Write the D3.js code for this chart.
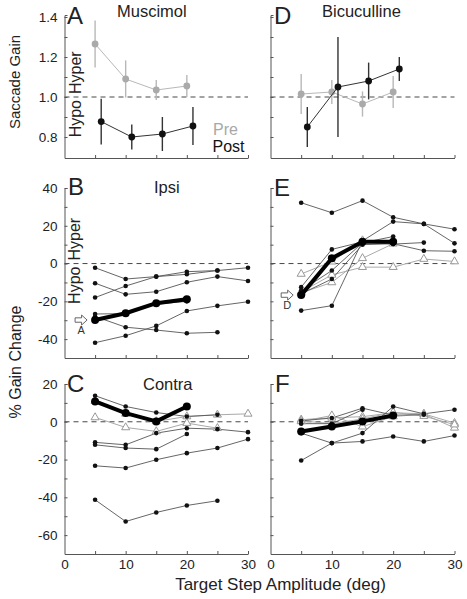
<!DOCTYPE html>
<html><head><meta charset="utf-8">
<script src="https://cdn.jsdelivr.net/npm/d3@7"></script>
<style>
body{margin:0;background:#fff}
svg{display:block}
text{font-family:"Liberation Sans",Arial,Helvetica,sans-serif}
</style>
</head><body>
<svg id="chart" width="467" height="599"></svg>
<script>
// ---------- data ----------
const amplitudes = [5, 10, 15, 20, 25, 30];
const gainAmplitudes = [5, 10, 15, 20];
const postOffset = 1; // Post points drawn 1 deg to the right
const xTickValues = [5, 10, 15, 20, 25, 30];
const xTickLabels = [0, 10, 20, 30];

const gainTickValues = [0.8, 0.9, 1.0, 1.1, 1.2, 1.3, 1.4];
const gainTickLabels = [0.8, 1.0, 1.2, 1.4];
const ipsiTickValues = [-40, -30, -20, -10, 0, 10, 20, 30, 40];
const ipsiTickLabels = [40, 20, 0, -20, -40];
const contraTickValues = [-60, -50, -40, -30, -20, -10, 0, 10, 20];
const contraTickLabels = [20, 0, -20, -40, -60];

// Panel A: Muscimol saccade gain
const muscimolPre     = [1.265, 1.09, 1.035, 1.055];
const muscimolPreErr  = [0.117, 0.093, 0.05, 0.055];
const muscimolPost    = [0.877, 0.80, 0.815, 0.855];
const muscimolPostErr = [0.114, 0.063, 0.085, 0.095];
// Panel D: Bicuculline saccade gain
const bicucullinePre     = [1.015, 1.025, 0.965, 1.025];
const bicucullinePreErr  = [0.10, 0.06, 0.063, 0.08];
const bicucullinePost    = [0.85, 1.05, 1.08, 1.14];
const bicucullinePostErr = [0.10, 0.25, 0.092, 0.06];

// Panel B: Ipsi, muscimol (% gain change)
const ipsiMuscimolBlack = [
  [-2.2, -8.2, -6.9, -4.3, -3.7, -2.2],
  [-10.4, -16.3, -14.9, -9.9, -6.9, -9.2],
  [-18, -11.9, -6.9, -5.7, -3.7],
  [-41.9, -38.2, -33, -25.1, -22.4, -20.2],
  [-28, -33.7, -35.2, -36.9, -36.4],
  [-26.7, -26.5, -21.5, -20]
];
const ipsiMuscimolGray = [];
const ipsiMuscimolMean = [-29.9, -26.3, -21, -18.9];

// Panel E: Ipsi, bicuculline
const ipsiBicucBlack = [
  [32.2, 26.9, 33.3, 24.5, 21, 18.2],
  [-24.9, -22.3, 12, 22.2, 21, 10.7],
  [-12.5, 7.5, 11.5, 10.3, 11.1],
  [-14.3, -3.7, 11, 14.3],
  [-16, -8.2, 10, 10.5, 6.8, 6.5]
];
const ipsiBicucGray = [
  [-5.5, 1, 12.2, 11.5],
  [-15, -6, -1.9, -1.9, 2.4, 1.1],
  [-15.5, -10, 2.8, 10.5]
];
const ipsiBicucMean = [-16.7, 2.8, 11.5, 11.5];

// Panel C: Contra, muscimol
const contraMuscimolBlack = [
  [13.8, 8.1, 4.9, 2.8, 3.7],
  [-10.9, -12.2, -6, -3.4, -3.9, -5.5],
  [-12.2, -13.9, -14.5, -6.5],
  [-23.3, -24.5, -20.1, -16.6, -13.9, -9.2],
  [-41.3, -52.8, -48, -44.3, -41.8]
];
const contraMuscimolGray = [
  [2.3, -3, -5.1, -0.7, -3.4],
  [11, 4.2, 0.2, 2.8, 3.7, 4.2]
];
const contraMuscimolMean = [10.8, 4.6, 0.2, 8.1];

// Panel F: Contra, bicuculline
const contraBicucBlack = [
  [-20.5, -11.3, -6, 8.1, 4.2, 6.4],
  [-6, -11.3, -10.4, -7.8, -10.4, -7.3],
  [0.5, 2, 7.2, 3.5, 3.7],
  [-1, -1, 6.4]
];
const contraBicucGray = [
  [1.1, 2.1, 2.7, 4.8, 4.2, -0.7],
  [0.2, 3.3, -2.6, 2.8, 4, -3.2],
  [0.5, -1, 1.5, 5, 3, -1.5]
];
const contraBicucMean = [-5.1, -2.5, 0.2, 3.3];

// ---------- drawing ----------
const svg = d3.select("#chart");
const BLACK = "#111", GRAY = "#aaaaaa", LINE = "#555";

const xLeft  = d3.scaleLinear().domain([0, 30]).range([64.5, 248]);
const xRight = d3.scaleLinear().domain([0, 30]).range([270.5, 454.5]);
const yGain   = d3.scaleLinear().domain([0.695, 1.41]).range([158, 15]);
const yIpsi   = d3.scaleLinear().domain([-50, 40]).range([358, 188]);
const yContra = d3.scaleLinear().domain([-70, 20]).range([554, 384]);

function fmtNum(d){ return d < 0 ? "-" + Math.abs(d) : String(d); }

function drawAxes(x, y, yTicks, yLabels, yFmt, showX){
  const g = svg.append("g");
  const yl = new Set(yLabels.map(v => +v.toFixed(3)));
  const ya = d3.axisLeft(y).tickValues(yTicks).tickSizeInner(-3).tickSizeOuter(-3).tickPadding(7)
    .tickFormat(d => (yFmt && yl.has(+d.toFixed(3))) ? yFmt(d) : "");
  const gy = g.append("g").attr("transform", `translate(${x.range()[0]},0)`).call(ya);
  const xl = new Set(xTickLabels);
  const xa = d3.axisBottom(x).tickValues(showX ? [0].concat(xTickValues) : xTickValues)
    .tickSizeInner(-3).tickSizeOuter(0).tickPadding(5)
    .tickFormat(d => (showX && xl.has(d)) ? String(d) : "");
  const gx = g.append("g").attr("transform", `translate(0,${y.range()[0]})`).call(xa);
  [gy, gx].forEach(a => {
    a.select(".domain").attr("stroke", "#555").attr("stroke-width", 1);
    a.selectAll(".tick line").attr("stroke", "#555");
    a.selectAll(".tick text").attr("font-size", 13.5).style("fill", "#222")
      .attr("font-family", '"Liberation Sans",Arial,sans-serif');
  });
  gx.selectAll(".tick").filter(d => d === 0).select("line").remove();
  return g;
}

function dashed(x, y, v){
  svg.append("line")
    .attr("x1", x(0)).attr("x2", x(30)).attr("y1", y(v)).attr("y2", y(v))
    .attr("stroke", "#333").attr("stroke-width", 0.9).attr("stroke-dasharray", "5,4");
}

function gainPanel(x, pre, preErr, post, postErr){
  const g = svg.append("g");
  const series = [
    {vals: pre, err: preErr, off: 0, color: GRAY, lc: "#b8b8b8"},
    {vals: post, err: postErr, off: postOffset, color: BLACK, lc: "#333"}
  ];
  series.forEach(s => {
    const pts = s.vals.map((v, i) => ({a: gainAmplitudes[i] + s.off, v, e: s.err[i]}));
    g.selectAll(null).data(pts).enter().append("line")
      .attr("x1", d => x(d.a)).attr("x2", d => x(d.a))
      .attr("y1", d => yGain(d.v - d.e)).attr("y2", d => yGain(d.v + d.e))
      .attr("stroke", s.lc).attr("stroke-width", 1.4);
    g.append("path").datum(pts)
      .attr("d", d3.line().x(d => x(d.a)).y(d => yGain(d.v)))
      .attr("fill", "none").attr("stroke", s.lc).attr("stroke-width", 1);
    g.selectAll(null).data(pts).enter().append("circle")
      .attr("cx", d => x(d.a)).attr("cy", d => yGain(d.v)).attr("r", 3.4)
      .attr("fill", s.color);
  });
}

function pctPanel(x, y, black, gray, mean){
  const g = svg.append("g");
  const line = d3.line().defined(d => d.v != null).x(d => x(d.a)).y(d => y(d.v));
  const toPts = arr => arr.map((v, i) => ({a: amplitudes[i], v}));
  gray.forEach(arr => {
    g.append("path").datum(toPts(arr)).attr("d", line).attr("fill", "none")
      .attr("stroke", GRAY).attr("stroke-width", 1);
  });
  black.forEach(arr => {
    g.append("path").datum(toPts(arr)).attr("d", line).attr("fill", "none")
      .attr("stroke", LINE).attr("stroke-width", 0.9);
  });
  const tri = d3.symbol().type(d3.symbolTriangle).size(28);
  gray.forEach(arr => {
    g.selectAll(null).data(toPts(arr)).enter().append("path")
      .attr("d", tri).attr("transform", d => `translate(${x(d.a)},${y(d.v)})`)
      .attr("fill", "#fff").attr("stroke", "#999").attr("stroke-width", 1);
  });
  black.forEach(arr => {
    g.selectAll(null).data(toPts(arr)).enter().append("circle")
      .attr("cx", d => x(d.a)).attr("cy", d => y(d.v)).attr("r", 2.3).attr("fill", BLACK);
  });
  const mp = toPts(mean);
  g.append("path").datum(mp).attr("d", line).attr("fill", "none")
    .attr("stroke", "#000").attr("stroke-width", 4).attr("stroke-linejoin", "round");
  g.selectAll(null).data(mp).enter().append("circle")
    .attr("cx", d => x(d.a)).attr("cy", d => y(d.v)).attr("r", 4).attr("fill", "#000");
}

function arrow(x, y, v, label){
  const tx = x(amplitudes[0]) - 8, ty = y(v);
  svg.append("path")
    .attr("d", `M${tx-12},${ty-2.2}H${tx-5.5}V${ty-5}L${tx},${ty}L${tx-5.5},${ty+5}V${ty+2.2}H${tx-12}Z`)
    .attr("fill", "#fff").attr("stroke", "#555").attr("stroke-width", 0.9);
  svg.append("text").attr("x", tx - 6).attr("y", ty + 14).attr("text-anchor", "middle")
    .attr("font-size", 11).style("fill", "#333").text(label);
}

function txt(x, y, s, size, opts = {}){
  const t = svg.append("text").attr("x", x).attr("y", y).attr("font-size", size).text(s)
    .style("fill", opts.fill || "#222");
  if (opts.anchor) t.attr("text-anchor", opts.anchor);
  if (opts.rotate) t.attr("transform", `rotate(-90,${x},${y})`);
  return t;
}

// Panel A & D
dashed(xLeft, yGain, 1.0);
dashed(xRight, yGain, 1.0);
drawAxes(xLeft, yGain, gainTickValues, gainTickLabels, d => d.toFixed(1), false);
drawAxes(xRight, yGain, gainTickValues, [], null, false);
gainPanel(xLeft, muscimolPre, muscimolPreErr, muscimolPost, muscimolPostErr);
gainPanel(xRight, bicucullinePre, bicucullinePreErr, bicucullinePost, bicucullinePostErr);

// Panel B & E
dashed(xLeft, yIpsi, 0);
dashed(xRight, yIpsi, 0);
drawAxes(xLeft, yIpsi, ipsiTickValues, ipsiTickLabels, fmtNum, false);
drawAxes(xRight, yIpsi, ipsiTickValues, [], null, false);
pctPanel(xLeft, yIpsi, ipsiMuscimolBlack, ipsiMuscimolGray, ipsiMuscimolMean);
pctPanel(xRight, yIpsi, ipsiBicucBlack, ipsiBicucGray, ipsiBicucMean);
arrow(xLeft, yIpsi, ipsiMuscimolMean[0], "A");
arrow(xRight, yIpsi, ipsiBicucMean[0], "D");

// Panel C & F
dashed(xLeft, yContra, 0);
dashed(xRight, yContra, 0);
drawAxes(xLeft, yContra, contraTickValues, contraTickLabels, fmtNum, true);
drawAxes(xRight, yContra, contraTickValues, [], null, true);
pctPanel(xLeft, yContra, contraMuscimolBlack, contraMuscimolGray, contraMuscimolMean);
pctPanel(xRight, yContra, contraBicucBlack, contraBicucGray, contraBicucMean);

// Panel letters & titles
txt(67, 23.5, "A", 24); txt(274, 23.5, "D", 24);
txt(68, 195, "B", 24);  txt(274, 196, "E", 24);
txt(67, 392, "C", 24);  txt(275, 392, "F", 24);
txt(117, 17, "Muscimol", 16.5);
txt(322, 17, "Bicuculline", 16.5);
txt(154, 193, "Ipsi", 16.5);
txt(143, 390, "Contra", 16.5);

// Hyper / Hypo
[[yGain, 1.0], [yIpsi, 0]].forEach(([y, v]) => {
  txt(80.5, y(v) - 3, "Hyper", 16, {rotate: true, anchor: "start"});
  txt(80.5, y(v) + 3, "Hypo", 16, {rotate: true, anchor: "end"});
});

// Pre / Post legend
txt(213, 135, "Pre", 16, {fill: "#a8a8a8"});
txt(212.5, 152, "Post", 16, {fill: "#111"});

// axis titles
txt(20, 82, "Saccade Gain", 15, {rotate: true, anchor: "middle"});
txt(21, 362, "% Gain Change", 16, {rotate: true, anchor: "middle"});
txt(280.5, 590, "Target Step Amplitude (deg)", 17, {anchor: "middle"});
</script>
</body></html>
